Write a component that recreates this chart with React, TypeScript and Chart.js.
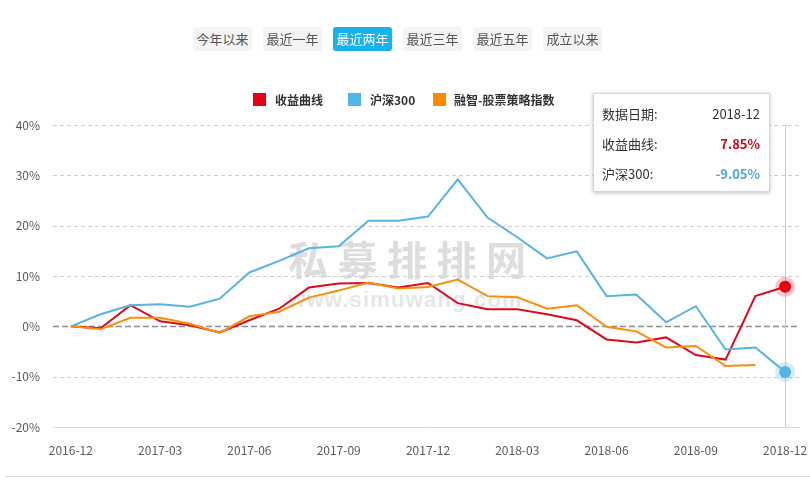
import React, { useEffect, useRef } from "react";
import { Chart, registerables } from "chart.js";

Chart.register(...registerables);

const months = [
  "2016-12", "2017-01", "2017-02", "2017-03", "2017-04", "2017-05", "2017-06",
  "2017-07", "2017-08", "2017-09", "2017-10", "2017-11", "2017-12", "2018-01",
  "2018-02", "2018-03", "2018-04", "2018-05", "2018-06", "2018-07", "2018-08",
  "2018-09", "2018-10", "2018-11", "2018-12",
];
const fundReturns = [0, -0.4, 4.2, 1.0, 0.2, -1.2, 1.2, 3.5, 7.7, 8.5, 8.6, 7.7, 8.6, 4.6, 3.4, 3.4, 2.4, 1.2, -2.6, -3.2, -2.2, -5.7, -6.6, 6.0, 7.85];
const csi300 = [0, 2.4, 4.2, 4.4, 3.9, 5.5, 10.7, 13.0, 15.5, 15.9, 21.0, 21.0, 21.8, 29.2, 21.6, 17.7, 13.5, 14.9, 6.0, 6.3, 0.8, 4.0, -4.6, -4.2, -9.05];
const strategyIndex = [0, -0.6, 1.7, 1.7, 0.5, -1.3, 2.0, 2.9, 5.7, 7.1, 8.7, 7.5, 7.8, 9.3, 6.0, 5.8, 3.5, 4.2, -0.1, -1.0, -4.2, -3.9, -7.9, -7.7, null];
const xTickMonths = ["2016-12", "2017-03", "2017-06", "2017-09", "2017-12", "2018-03", "2018-06", "2018-09", "2018-12"];
const yTickValues = [-20, -10, 0, 10, 20, 30, 40];
const rangeButtons = ["今年以来", "最近一年", "最近两年", "最近三年", "最近五年", "成立以来"];
const activeRange = "最近两年";
const seriesNames = ["收益曲线", "沪深300", "融智-股票策略指数"];
const seriesColors = ["#dc0a1e", "#56b3e6", "#f98e0a"];
const legendColors = ["#e60012", "#4db6ec", "#ff8a00"];
const tooltipDate = "2018-12";
const tooltipValues = ["7.85%", "-9.05%"];
const watermarkMain = "私募排排网";
const watermarkSub = "www.simuwang.com";

const FONT = "'Noto Sans CJK SC', 'Noto Sans', sans-serif";

const toPoints = (arr: (number | null)[]) => arr.map((v, i) => ({ x: i, y: v }));

const decorPlugin = {
  id: "decor",
  beforeDatasetsDraw(chart: any) {
    const { ctx, chartArea, scales } = chart;
    const ys = scales.y;
    const xs = scales.x;
    ctx.save();
    // watermark
    ctx.textAlign = "center";
    ctx.textBaseline = "middle";
    ctx.fillStyle = "rgba(200,200,200,0.62)";
    ctx.font = "bold 40px 'Noto Sans CJK SC', sans-serif";
    const chars = Array.from(watermarkMain);
    chars.forEach((c, k) => ctx.fillText(c, 308 + k * 49.5, 260));
    ctx.fillStyle = "rgba(200,200,200,0.45)";
    ctx.font = "bold 22px 'Liberation Sans', Arial, sans-serif";
    ctx.textBaseline = "alphabetic";
    ctx.textAlign = "left";
    (ctx as any).letterSpacing = "1.2px";
    const w = ctx.measureText(watermarkSub).width;
    ctx.fillText(watermarkSub, 405.5 - w / 2, 307);
    (ctx as any).letterSpacing = "0px";

    // grid lines
    yTickValues.forEach((v) => {
      const py = Math.round(ys.getPixelForValue(v)) + 0.5;
      ctx.beginPath();
      if (v === yTickValues[0]) {
        ctx.setLineDash([]);
        ctx.strokeStyle = "#dedede";
        ctx.lineWidth = 1;
      } else if (v === 0) {
        ctx.setLineDash([6, 3]);
        ctx.strokeStyle = "#8c8c8c";
        ctx.lineWidth = 1.5;
      } else {
        ctx.setLineDash([4, 3]);
        ctx.strokeStyle = "#cfcfcf";
        ctx.lineWidth = 1;
      }
      ctx.moveTo(chartArea.left, py);
      ctx.lineTo(chartArea.right, py);
      ctx.stroke();
    });
    // crosshair
    ctx.setLineDash([]);
    const px = Math.round(xs.getPixelForValue(months.length - 1)) + 0.5;
    ctx.strokeStyle = "#cccccc";
    ctx.lineWidth = 1;
    ctx.beginPath();
    ctx.moveTo(px, chartArea.top);
    ctx.lineTo(px, chartArea.bottom);
    ctx.stroke();
    ctx.restore();
  },
  afterDatasetsDraw(chart: any) {
    const { ctx } = chart;
    const halos = ["rgba(230,0,18,0.22)", "rgba(86,179,230,0.25)"];
    const fills = ["#e60012", "#56b3e6"];
    [0, 1].forEach((di) => {
      const el = chart.getDatasetMeta(di).data[months.length - 1];
      if (!el) return;
      ctx.save();
      ctx.beginPath();
      ctx.fillStyle = halos[di];
      ctx.arc(el.x, el.y, 10, 0, Math.PI * 2);
      ctx.fill();
      ctx.beginPath();
      ctx.fillStyle = fills[di];
      ctx.arc(el.x, el.y, 6, 0, Math.PI * 2);
      ctx.fill();
      ctx.restore();
    });
  },
};

export default function App() {
  const canvasRef = useRef<HTMLCanvasElement | null>(null);

  useEffect(() => {
    const canvas = canvasRef.current;
    if (!canvas) return;
    const tickIdx = xTickMonths.map((m) => months.indexOf(m));
    const chart = new Chart(canvas, {
      type: "line",
      data: {
        datasets: [
          { label: seriesNames[0], data: toPoints(fundReturns), borderColor: seriesColors[0] },
          { label: seriesNames[1], data: toPoints(csi300), borderColor: seriesColors[1] },
          { label: seriesNames[2], data: toPoints(strategyIndex), borderColor: seriesColors[2] },
        ].map((d, i) => ({
          ...d,
          borderWidth: 2,
          pointRadius: 0,
          pointHoverRadius: 0,
          tension: 0,
          fill: false,
          spanGaps: false,
          order: 3 - i,
        })) as any,
      },
      options: {
        responsive: false,
        devicePixelRatio: 1,
        animation: false,
        events: [],
        layout: { padding: { top: 125, right: 10, left: 0, bottom: 0 } },
        plugins: { legend: { display: false }, tooltip: { enabled: false } },
        scales: {
          x: {
            type: "linear",
            min: -0.6,
            max: 24.5,
            grid: { display: false, drawTicks: false },
            border: { display: false },
            afterBuildTicks: (scale: any) => {
              scale.ticks = tickIdx.map((v) => ({ value: v }));
            },
            afterFit: (scale: any) => {
              scale.height = 59;
              scale.paddingLeft = 0;
              scale.paddingRight = 0;
            },
            ticks: {
              autoSkip: false,
              maxRotation: 0,
              padding: 16,
              color: "#5a5a5a",
              font: { family: FONT, size: 12 },
              callback: (v: any) => months[v as number] ?? "",
            },
          },
          y: {
            min: -20,
            max: 40,
            grid: { display: false, drawTicks: false },
            border: { display: false },
            afterBuildTicks: (scale: any) => {
              scale.ticks = yTickValues.map((v) => ({ value: v }));
            },
            afterFit: (scale: any) => {
              scale.width = 53;
            },
            ticks: {
              padding: 13,
              color: "#5a5a5a",
              font: { family: FONT, size: 12 },
              callback: (v: any) => `${v}%`,
            },
          },
        },
      },
      plugins: [decorPlugin],
    });
    return () => chart.destroy();
  }, []);

  return (
    <div
      style={{
        position: "fixed",
        left: 0,
        top: 0,
        width: 810,
        height: 486,
        background: "#fff",
        overflow: "hidden",
        fontFamily: FONT,
      }}
    >
      <canvas ref={canvasRef} width={810} height={486} style={{ position: "absolute", left: 0, top: 0, display: "block" }} />
      {rangeButtons.map((b, k) => {
        const active = b === activeRange;
        return (
          <div
            key={b}
            style={{
              position: "absolute",
              left: 193 + k * 70,
              top: 27,
              width: 59,
              height: 24,
              lineHeight: "24px",
              textAlign: "center",
              fontSize: 13,
              borderRadius: 3,
              background: active ? "#17b1f2" : "#f4f4f4",
              color: active ? "#fff" : "#555",
            }}
          >
            {b}
          </div>
        );
      })}
      {seriesNames.map((n, k) => {
        const lefts = [253, 348, 433];
        return (
          <div key={n} style={{ position: "absolute", left: lefts[k], top: 91, height: 16, display: "flex", alignItems: "center" }}>
            <div style={{ width: 13, height: 13, background: legendColors[k] }} />
            <div style={{ marginLeft: k === 2 ? 8 : 9, fontSize: 12, fontWeight: "bold", color: "#333", whiteSpace: "nowrap" }}>{n}</div>
          </div>
        );
      })}
      <div
        style={{
          position: "absolute",
          left: 593,
          top: 93,
          width: 177,
          height: 99,
          boxSizing: "border-box",
          background: "#fff",
          border: "1px solid #d6d6d6",
          boxShadow: "0 1px 4px rgba(0,0,0,0.25)",
          fontSize: 13,
          color: "#333",
        }}
      >
        {[
          { label: "数据日期:", value: tooltipDate, color: "#333", bold: false },
          { label: seriesNames[0] + ":", value: tooltipValues[0], color: "#d0021b", bold: true },
          { label: seriesNames[1] + ":", value: tooltipValues[1], color: "#4aa8e0", bold: true },
        ].map((r, k) => (
          <div
            key={k}
            style={{
              position: "absolute",
              left: 8,
              right: 9,
              top: 9 + k * 30,
              height: 22,
              lineHeight: "22px",
              display: "flex",
              justifyContent: "space-between",
            }}
          >
            <span>{r.label}</span>
            <span style={{ color: r.color, fontWeight: r.bold ? "bold" : "normal" }}>{r.value}</span>
          </div>
        ))}
      </div>
      <div style={{ position: "absolute", left: 5, right: 0, top: 476, height: 1, background: "#d9d9d9" }} />
    </div>
  );
}
